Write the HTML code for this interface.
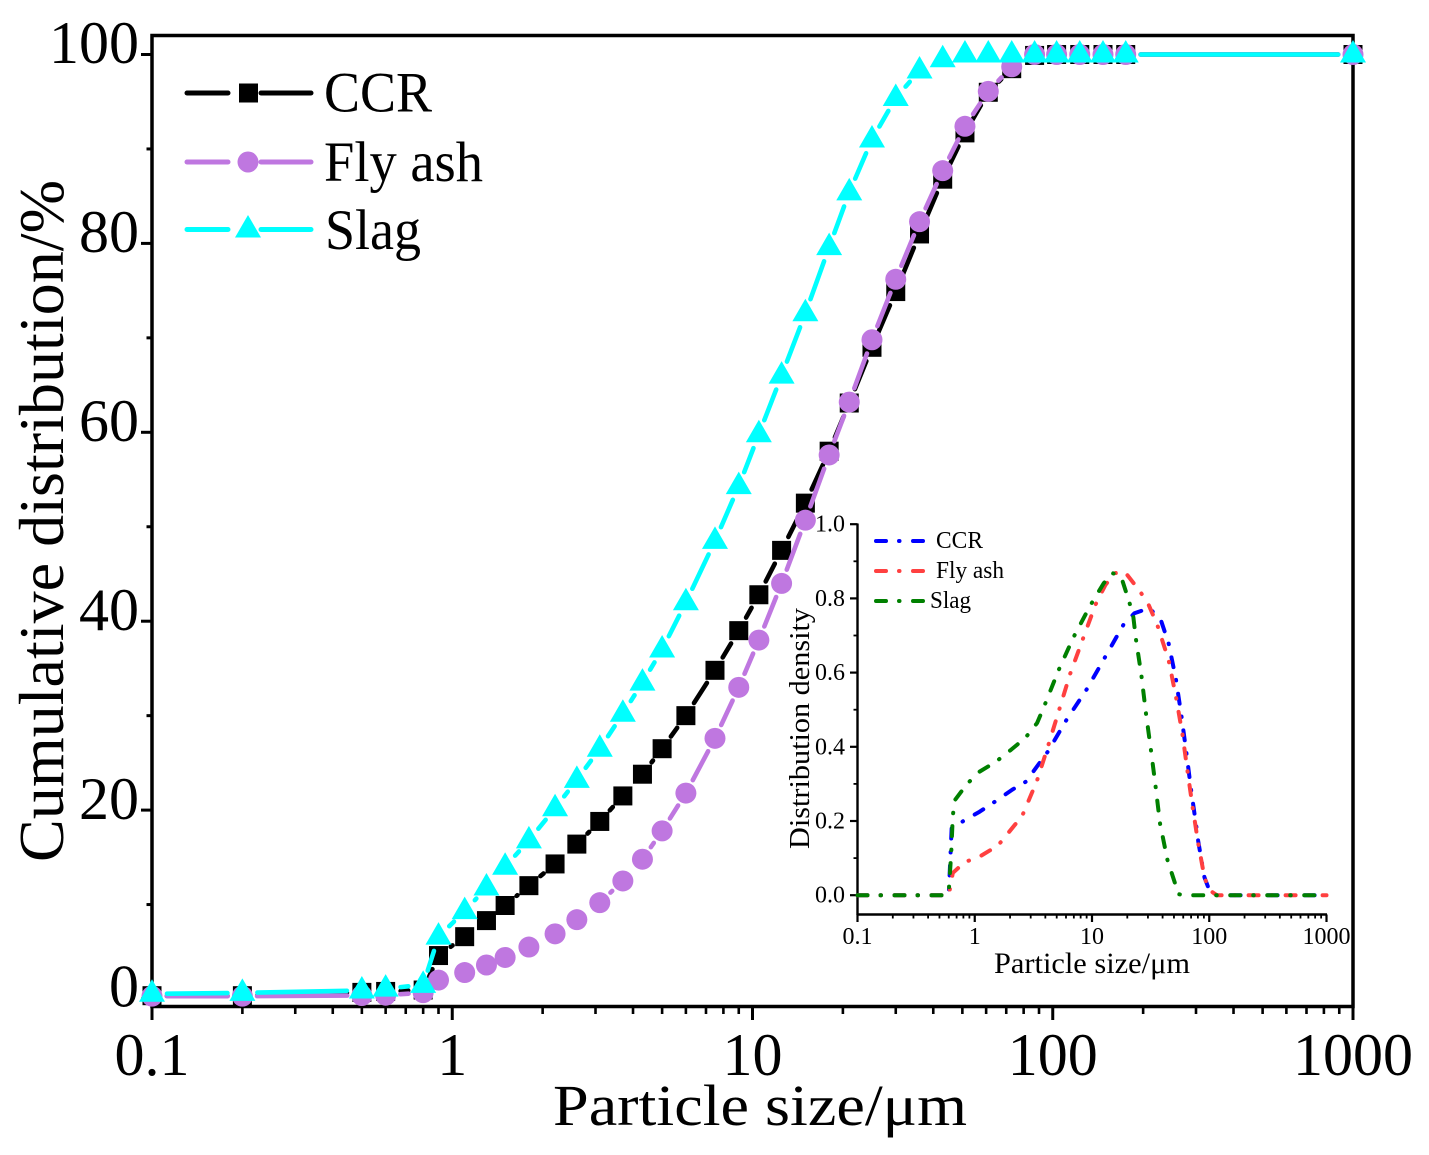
<!DOCTYPE html>
<html lang="en">
<head>
<meta charset="utf-8">
<title>Particle size distribution chart</title>
<style>
html,body{margin:0;padding:0;background:#fff;}
svg{display:block;}
text{font-family:"Liberation Serif","DejaVu Serif",serif;fill:#000;}
</style>
</head>
<body>
<svg id="chart" xmlns="http://www.w3.org/2000/svg" width="1429" height="1155" viewBox="0 0 1429 1155">
<rect x="0" y="0" width="1429" height="1155" fill="#fff"/>
<rect x="152" y="35.5" width="1201" height="971" fill="none" stroke="#000" stroke-width="3.5"/>
<g id="main-axes"></g>
<g id="main-series"></g>
<text transform="translate(63,862) rotate(-90)" font-size="63" textLength="682" lengthAdjust="spacingAndGlyphs">Cumulative distribution/%</text>
<text x="553" y="1125" font-size="58" textLength="414" lengthAdjust="spacingAndGlyphs">Particle size/μm</text>

<g>
  <g>
    <line x1="187" y1="93" x2="228" y2="93" stroke="#000" stroke-width="5" stroke-linecap="round"/>
    <line x1="261" y1="93" x2="311" y2="93" stroke="#000" stroke-width="5" stroke-linecap="round"/>
    <rect x="239" y="83.5" width="19" height="19" fill="#000"/>
    <text x="324" y="111.5" font-size="57" textLength="108" lengthAdjust="spacingAndGlyphs">CCR</text>
  </g>
  <g>
    <line x1="187" y1="162" x2="228" y2="162" stroke="#BF77E0" stroke-width="5" stroke-linecap="round"/>
    <line x1="261" y1="162" x2="311" y2="162" stroke="#BF77E0" stroke-width="5" stroke-linecap="round"/>
    <circle cx="248" cy="162" r="10.5" fill="#BF77E0"/>
    <text x="324" y="181" font-size="57" textLength="159" lengthAdjust="spacingAndGlyphs">Fly ash</text>
  </g>
  <g>
    <line x1="187" y1="229.5" x2="228" y2="229.5" stroke="#00FFFF" stroke-width="5" stroke-linecap="round"/>
    <line x1="261" y1="229.5" x2="311" y2="229.5" stroke="#00FFFF" stroke-width="5" stroke-linecap="round"/>
    <polygon points="248,215 261,237.5 235,237.5" fill="#00FFFF"/>
    <text x="325" y="249" font-size="57" textLength="96" lengthAdjust="spacingAndGlyphs">Slag</text>
  </g>
</g>

<g id="inset-axes"></g>
<g id="inset-series"></g>
<text transform="translate(809,849) rotate(-90)" font-size="29" textLength="241" lengthAdjust="spacingAndGlyphs">Distribution density</text>
<text x="994" y="973" font-size="30" textLength="196" lengthAdjust="spacingAndGlyphs">Particle size/μm</text>

<g>
  <g>
    <line x1="876" y1="541" x2="924" y2="541" stroke="#0000FF" stroke-width="4" stroke-linecap="round" stroke-dasharray="10 13 .5 13.5"/>
    <text x="936" y="548" font-size="24" textLength="47" lengthAdjust="spacingAndGlyphs">CCR</text>
  </g>
  <g>
    <line x1="876" y1="571" x2="924" y2="571" stroke="#FF4040" stroke-width="4" stroke-linecap="round" stroke-dasharray="10 13 .5 13.5"/>
    <text x="936" y="578" font-size="24" textLength="68" lengthAdjust="spacingAndGlyphs">Fly ash</text>
  </g>
  <g>
    <line x1="876" y1="601" x2="924" y2="601" stroke="#008000" stroke-width="4" stroke-linecap="round" stroke-dasharray="10 13 .5 13.5"/>
    <text x="930" y="608" font-size="24" textLength="41" lengthAdjust="spacingAndGlyphs">Slag</text>
  </g>
</g>
</svg>

<script>
// Main chart data
const particleSizes = [0.1,0.2,0.5,0.6,0.8,0.9,1.1,1.3,1.5,1.8,2.2,2.6,3.1,3.7,4.3,5,6,7.5,9,10.5,12.5,15,18,21,25,30,36,43,51,61,73,87,103,123,147,175,1000];
const ccrCumulative = [0.35,0.35,0.7,0.8,0.95,4.6,6.6,8.3,9.9,12,14.3,16.4,18.8,21.5,23.8,26.5,30,34.8,39,42.8,47.5,52.5,58,63.1,69,74.9,81,86.8,91.7,96,98.5,99.9,100,100,100,100,100];
const flyAshCumulative = [0.3,0.3,0.37,0.4,0.67,2,2.8,3.6,4.4,5.5,6.9,8.4,10.2,12.5,14.8,17.8,21.8,27.6,33,38,44,50.7,57.6,63.2,69.8,76.2,82.3,87.7,92.4,96.1,98.7,100,100,100,100,100,100];
const slagCumulative = [0.55,0.65,0.9,1.1,1.5,6.6,9.3,11.8,14,16.8,20.2,23.2,26.5,30.2,33.5,37,42,48.5,54.3,59.8,66,72.6,79.6,85.4,91,95.4,98.3,99.5,100,100,100,100,100,100,100,100,100];
const mainXTickLabels = ["0.1","1","10","100","1000"];
const mainXTickValues = [0.1,1,10,100,1000];
const mainYTickValues = [0,20,40,60,80,100];
const mainYMinorValues = [10,30,50,70,90];

// Inset chart data
const insetCcrSizes = [0.1,0.6,0.635,0.8,1.1,1.5,2.1,2.73,4.2,6.07,9.06,13,18.7,23,31,39,45,52,58,64,70,78,80.5,91,100,116,1000];
const insetCcrDensity = [0,0,0.18,0.2,0.225,0.253,0.285,0.306,0.387,0.473,0.556,0.643,0.731,0.76,0.774,0.738,0.679,0.582,0.482,0.381,0.284,0.18,0.146,0.048,0.014,0,0];
const insetFlySizes = [0.1,0.6,0.65,0.82,1.1,1.58,2.54,3.39,4.2,5.25,6.5,8.3,10.7,13,15.6,19,25.5,30,36,45,52,59,65,72,80.5,91,100,116,1000];
const insetFlyDensity = [0,0,0.06,0.089,0.104,0.134,0.214,0.308,0.4,0.5,0.596,0.688,0.783,0.836,0.868,0.872,0.82,0.787,0.729,0.634,0.535,0.435,0.338,0.239,0.14,0.048,0.014,0,0];
const insetSlagSizes = [0.1,0.55,0.6,0.63,0.65,0.68,0.86,1.1,1.52,2.04,2.7,3.4,3.93,5.18,6.92,9.75,12.6,15,17.7,20.8,22.5,23.7,26.4,28.8,31.8,34.8,38,44,54.7,60,800];
const insetSlagDensity = [0,0,0.01,0.113,0.215,0.257,0.3,0.333,0.36,0.392,0.424,0.464,0.511,0.606,0.694,0.783,0.841,0.868,0.859,0.79,0.751,0.69,0.592,0.492,0.392,0.295,0.194,0.095,0.003,0,0];
const insetXTickLabels = ["0.1","1","10","100","1000"];
const insetXTickValues = [0.1,1,10,100,1000];
const insetYTickValues = [0,0.2,0.4,0.6,0.8,1];
const insetYMinorValues = [0.1,0.3,0.5,0.7,0.9];

const SVG_NS = "http://www.w3.org/2000/svg";
function mk(tag, attrs, parent, txt) {
  const node = document.createElementNS(SVG_NS, tag);
  for (const k in attrs) node.setAttribute(k, attrs[k]);
  if (txt !== undefined) node.textContent = txt;
  parent.appendChild(node);
  return node;
}
const mainX = v => 152 + (Math.log10(v) + 1) * 300.25;
const mainY = v => 999 - v * 9.445;
const insetX = v => 857.5 + (Math.log10(v) + 1) * 117.25;
const insetY = v => 895.2 - v * 371;
const minorMultipliers = [2,3,4,5,6,7,8,9];

/* ---------- main axes ---------- */
const mainAxes = document.getElementById("main-axes");
mainXTickValues.forEach((v, i) => {
  const t = mk("line", {x1: mainX(v), x2: mainX(v), y1: 1007, y2: 1020, stroke: "#000", "stroke-width": 3}, mainAxes);
  
  
  const l = mk("text", {x: mainX(v), y: 1075, "font-size": 60, "text-anchor": "middle"}, mainAxes, mainXTickLabels[i]);
  
  
  if (v < 1000) {
    minorMultipliers.forEach(m => {
      const mt = mk("line", {x1: mainX(v * m), x2: mainX(v * m), y1: 1007, y2: 1014, stroke: "#000", "stroke-width": 2.6}, mainAxes);
      
      
    });
  }
});
mainYTickValues.forEach(v => {
  const t = mk("line", {x1: 141, x2: 152, y1: mainY(v), y2: mainY(v), stroke: "#000", "stroke-width": 3}, mainAxes);
  
  
  const l = mk("text", {x: 139, y: mainY(v) + (v === 0 ? 7.5 : 8.7), "font-size": 60, "text-anchor": "end"}, mainAxes, String(v));
  
  
});
mainYMinorValues.forEach(v => {
  const t = mk("line", {x1: 146.5, x2: 152, y1: mainY(v), y2: mainY(v), stroke: "#000", "stroke-width": 3}, mainAxes);
  
  
});

/* ---------- main series ---------- */
const mainSeries = document.getElementById("main-series");
function drawSeries(values, colour, gap, markerKind, seriesName) {
  const group = mk("g", {}, mainSeries);
  
  
  for (let i = 0; i < values.length - 1; i++) {
    const x1 = mainX(particleSizes[i]), y1 = mainY(values[i]);
    const x2 = mainX(particleSizes[i + 1]), y2 = mainY(values[i + 1]);
    const len = Math.hypot(x2 - x1, y2 - y1);
    if (len < 2 * gap) continue;
    const ux = (x2 - x1) / len, uy = (y2 - y1) / len;
    const seg = mk("line", {
      x1: x1 + ux * gap, y1: y1 + uy * gap,
      x2: x2 - ux * gap + ux * 0.05, y2: y2 - uy * gap + uy * 0.05,
      stroke: colour, "stroke-width": 4.6, "stroke-linecap": "round"
    }, group);
    
    
  }
  values.forEach((v, i) => {
    const x = mainX(particleSizes[i]), y = mainY(v);
    let m;
    if (markerKind === "square") {
      m = mk("rect", {x: x - 9.5, y: y - 9.5, width: 19, height: 19, fill: colour}, group);
    } else if (markerKind === "circle") {
      m = mk("circle", {cx: x, cy: y, r: 10.5, fill: colour}, group);
    } else {
      m = mk("polygon", {points: `${x},${y - 14.5} ${x + 13},${y + 8} ${x - 13},${y + 8}`, fill: colour}, group);
    }
    
    
  });
}
drawSeries(ccrCumulative, "#000000", 15, "square", "ccr-series");
drawSeries(flyAshCumulative, "#BF77E0", 14.7, "circle", "fly-ash-series");
drawSeries(slagCumulative, "#00FFFF", 15, "triangle", "slag-series");

/* ---------- inset axes ---------- */
const insetAxes = document.getElementById("inset-axes");
const insetYLine = mk("line", {x1: 857.5, x2: 857.5, y1: 523.5, y2: 915, stroke: "#000", "stroke-width": 2.4}, insetAxes);


const insetXLine = mk("line", {x1: 856.5, x2: 1327, y1: 914.5, y2: 914.5, stroke: "#000", "stroke-width": 2.4}, insetAxes);


insetXTickValues.forEach((v, i) => {
  const t = mk("line", {x1: insetX(v), x2: insetX(v), y1: 914.5, y2: 922, stroke: "#000", "stroke-width": 2.2}, insetAxes);
  
  
  const l = mk("text", {x: insetX(v), y: 944, "font-size": 24, "text-anchor": "middle"}, insetAxes, insetXTickLabels[i]);
  
  
  if (v < 1000) {
    minorMultipliers.forEach(m => {
      const mt = mk("line", {x1: insetX(v * m), x2: insetX(v * m), y1: 914.5, y2: 918.5, stroke: "#000", "stroke-width": 1.8}, insetAxes);
      
      
    });
  }
});
insetYTickValues.forEach(v => {
  const t = mk("line", {x1: 850, x2: 857.5, y1: insetY(v), y2: insetY(v), stroke: "#000", "stroke-width": 2.2}, insetAxes);
  
  
  const l = mk("text", {x: 845, y: insetY(v) + 7.5, "font-size": 24, "text-anchor": "end"}, insetAxes, v.toFixed(1));
  
  
});
insetYMinorValues.forEach(v => {
  const t = mk("line", {x1: 853.5, x2: 857.5, y1: insetY(v), y2: insetY(v), stroke: "#000", "stroke-width": 1.8}, insetAxes);
  
  
});

/* ---------- inset series ---------- */
const insetSeries = document.getElementById("inset-series");
function drawInset(sizes, values, colour, seriesName) {
  const d = sizes.map((s, i) => (i ? "L" : "M") + insetX(s).toFixed(2) + " " + insetY(values[i]).toFixed(2)).join(" ");
  const p = mk("path", {d: d, fill: "none", stroke: colour, "stroke-width": 4, "stroke-linecap": "round", "stroke-linejoin": "round", "stroke-dasharray": "10 13 .5 13.5"}, insetSeries);
  
  
}
drawInset(insetCcrSizes, insetCcrDensity, "#0000FF", "inset-ccr-line");
drawInset(insetFlySizes, insetFlyDensity, "#FF4040", "inset-fly-ash-line");
drawInset(insetSlagSizes, insetSlagDensity, "#008000", "inset-slag-line");
</script>
</body>
</html>
